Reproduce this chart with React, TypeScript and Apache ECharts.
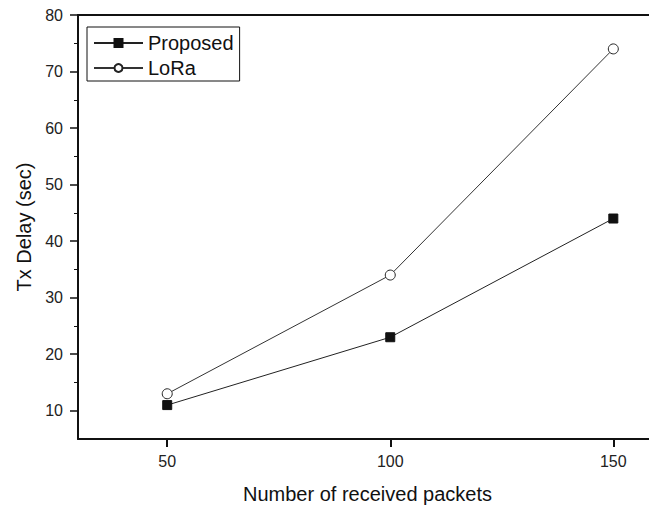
import React, { useEffect, useRef } from "react";
import * as echarts from "echarts";

const xTicks = [50, 100, 150];
const yTicks = [10, 20, 30, 40, 50, 60, 70, 80];
const yMinorTicks = [15, 25, 35, 45, 55, 65, 75];
const packets = [50, 100, 150];
const proposed = [11, 23, 44];
const lora = [13, 34, 74];

const FONT = "'Liberation Sans', Arial, sans-serif";

export default function App() {
  const ref = useRef<HTMLDivElement>(null);
  useEffect(() => {
    if (!ref.current) return;
    const chart = echarts.init(ref.current, null, { renderer: "svg" });
    const xBase = { type: "value", min: 30, max: 158 };
    const yBase = { type: "value", min: 5, max: 80 };
    const gridBox = { left: 78, top: 15, width: 571, height: 424, containLabel: false };
    chart.setOption({
      animation: false,
      backgroundColor: "#fff",
      textStyle: { fontFamily: FONT },
      grid: [gridBox, { ...gridBox }],
      legend: {
        orient: "vertical",
        left: 87,
        top: 27,
        padding: [6, 6, 3, 6],
        borderColor: "#111",
        borderWidth: 1,
        itemWidth: 49,
        itemHeight: 10,
        itemGap: 5,
        textStyle: { fontFamily: FONT, fontSize: 20, color: "#111" },
        data: ["Proposed", "LoRa"],
      },
      xAxis: [
        {
          ...xBase,
          gridIndex: 0,
          position: "bottom",
          name: "Number of received packets",
          nameLocation: "middle",
          nameGap: 45,
          nameTextStyle: { fontFamily: FONT, fontSize: 20, color: "#111", padding: [0, 0, 0, 8] },
          axisLine: { show: true, onZero: false, lineStyle: { color: "#111", width: 2 } },
          axisTick: { show: true, inside: false, length: 8, customValues: xTicks, lineStyle: { color: "#111", width: 2 } },
          axisLabel: { customValues: xTicks, margin: 14, fontFamily: FONT, fontSize: 16, color: "#222" },
          splitLine: { show: false },
        },
        {
          ...xBase,
          gridIndex: 0,
          position: "top",
          axisLine: { show: true, onZero: false, lineStyle: { color: "#111", width: 2 } },
          axisTick: { show: false },
          axisLabel: { show: false },
          splitLine: { show: false },
        },
        {
          ...xBase,
          gridIndex: 1,
          show: false,
        },
      ],
      yAxis: [
        {
          ...yBase,
          gridIndex: 0,
          position: "left",
          name: "Tx Delay (sec)",
          nameLocation: "middle",
          nameGap: 43,
          nameTextStyle: { fontFamily: FONT, fontSize: 20, color: "#111" },
          axisLine: { show: true, onZero: false, lineStyle: { color: "#111", width: 2 } },
          axisTick: { show: true, inside: false, length: 8, customValues: yTicks, lineStyle: { color: "#111", width: 1.5 } },
          axisLabel: { customValues: yTicks, margin: 15, fontFamily: FONT, fontSize: 16, color: "#222" },
          splitLine: { show: false },
        },
        {
          ...yBase,
          gridIndex: 1,
          position: "left",
          axisLine: { show: false, onZero: false },
          axisTick: { show: true, inside: false, length: 4, customValues: yMinorTicks, lineStyle: { color: "#111", width: 1 } },
          axisLabel: { show: false },
          splitLine: { show: false },
        },
      ],
      series: [
        {
          name: "Proposed",
          type: "line",
          xAxisIndex: 0,
          yAxisIndex: 0,
          data: packets.map((p, i) => [p, proposed[i]]),
          symbol: "rect",
          symbolSize: 9,
          itemStyle: { color: "#111", borderColor: "#111", borderWidth: 1 },
          lineStyle: { color: "#222", width: 1 },
        },
        {
          name: "LoRa",
          type: "line",
          xAxisIndex: 0,
          yAxisIndex: 0,
          data: packets.map((p, i) => [p, lora[i]]),
          symbol: "circle",
          symbolSize: 10,
          itemStyle: { color: "#fff", borderColor: "#222", borderWidth: 1 },
          lineStyle: { color: "#333", width: 1 },
        },
      ],
    });
    return () => chart.dispose();
  }, []);
  return (
    <div
      ref={ref}
      style={{ position: "fixed", left: 0, top: 0, width: 649, height: 510, background: "#fff" }}
    />
  );
}
